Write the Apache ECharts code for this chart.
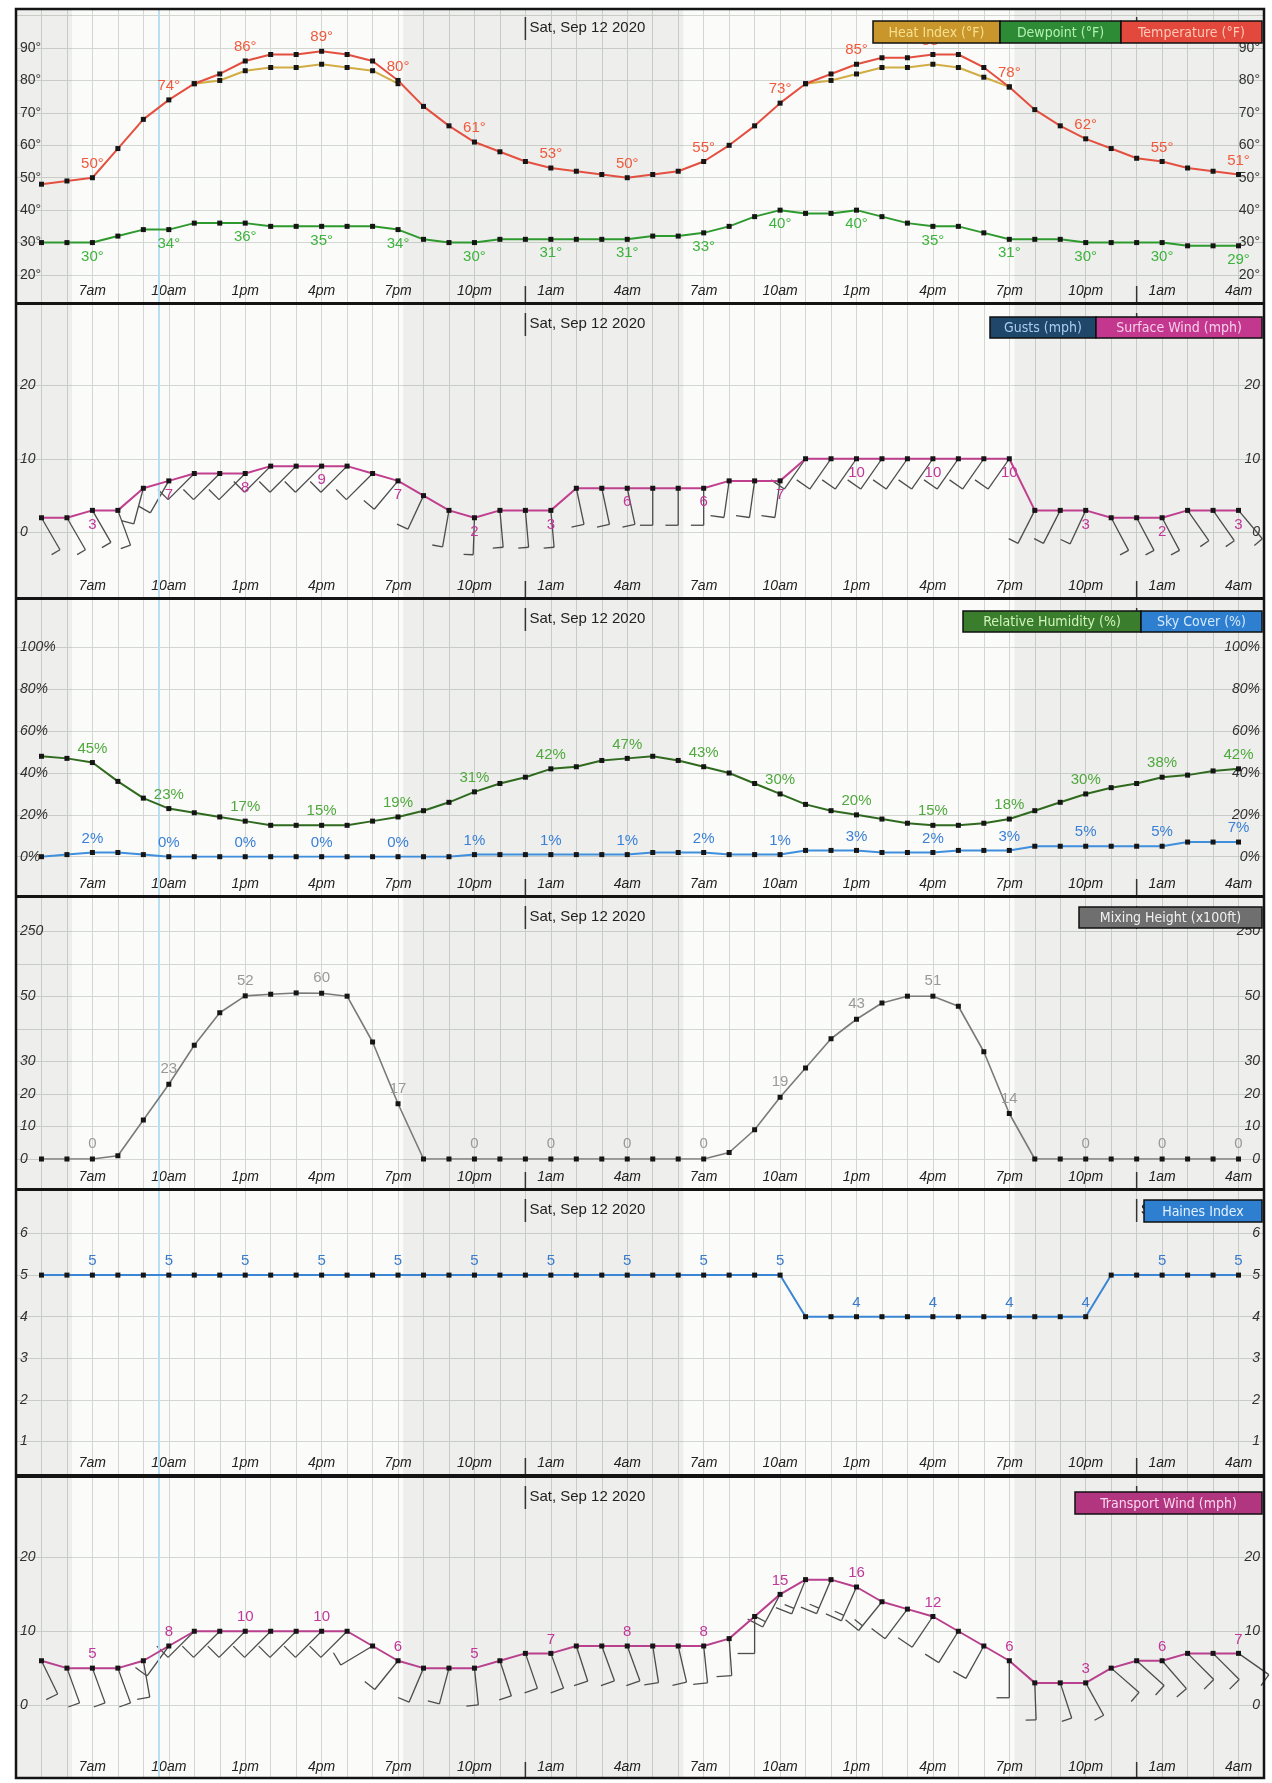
<!DOCTYPE html>
<html><head><meta charset="utf-8">
<script src="https://cdn.jsdelivr.net/npm/echarts@6/dist/echarts.min.js"></script>
<style>html,body{margin:0;padding:0;background:#fff}#c{width:1272px;height:1783px}</style>
</head><body><div id="c"></div><script>
// ---------------- DATA ----------------
const timeLabels = ['5am','6am','7am','8am','9am','10am','11am','12pm','1pm','2pm','3pm','4pm','5pm','6pm','7pm','8pm','9pm','10pm','11pm','12am','1am','2am','3am','4am',
                    '5am','6am','7am','8am','9am','10am','11am','12pm','1pm','2pm','3pm','4pm','5pm','6pm','7pm','8pm','9pm','10pm','11pm','12am','1am','2am','3am','4am'];
const temperature = [48,49,50,59,68,74,79,82,86,88,88,89,88,86,80,72,66,61,58,55,53,52,51,50,
                     51,52,55,60,66,73,79,82,85,87,87,88,88,84,78,71,66,62,59,56,55,53,52,51];
const heatIndex = [null,null,null,null,null,null,79,80,83,84,84,85,84,83,79,null,null,null,null,null,null,null,null,null,
                   null,null,null,null,null,null,79,80,82,84,84,85,84,81,78,null,null,null,null,null,null,null,null,null];
const dewpoint = [30,30,30,32,34,34,36,36,36,35,35,35,35,35,34,31,30,30,31,31,31,31,31,31,
                  32,32,33,35,38,40,39,39,40,38,36,35,35,33,31,31,31,30,30,30,30,29,29,29];
const surfaceWind = [2,2,3,3,6,7,8,8,8,9,9,9,9,8,7,5,3,2,3,3,3,6,6,6,
                     6,6,6,7,7,7,10,10,10,10,10,10,10,10,10,3,3,3,2,2,2,3,3,3];
const surfaceDir = [150,150,150,160,195,210,225,225,225,225,225,225,225,225,220,205,190,182,175,175,175,168,168,168,
                    180,180,180,188,188,188,215,215,215,215,215,215,215,215,215,207,207,205,152,152,152,145,145,140];
const humidity = [48,47,45,36,28,23,21,19,17,15,15,15,15,17,19,22,26,31,35,38,42,43,46,47,
                  48,46,43,40,35,30,25,22,20,18,16,15,15,16,18,22,26,30,33,35,38,39,41,42];
const skyCover = [0,1,2,2,1,0,0,0,0,0,0,0,0,0,0,0,0,1,1,1,1,1,1,1,
                  2,2,2,1,1,1,3,3,3,2,2,2,3,3,3,5,5,5,5,5,5,7,7,7];
const mixingHeight = [0,0,0,1,12,23,35,45,52,57,61,60,51,36,17,0,0,0,0,0,0,0,0,0,
                      0,0,0,2,9,19,28,37,43,48,51,51,47,33,14,0,0,0,0,0,0,0,0,0];
const mixTicks = [0,10,20,30,50,250];
const haines = [5,5,5,5,5,5,5,5,5,5,5,5,5,5,5,5,5,5,5,5,5,5,5,5,
                5,5,5,5,5,5,4,4,4,4,4,4,4,4,4,4,4,4,5,5,5,5,5,5];
const transportWind = [6,5,5,5,6,8,10,10,10,10,10,10,10,8,6,5,5,5,6,7,7,8,8,8,
                       8,8,8,9,12,15,17,17,16,14,13,12,10,8,6,3,3,3,5,6,6,7,7,7];
const transportDir = [154,160,160,160,170,216,225,225,225,225,225,225,225,239,219,203,195,174,162,161,160,162,160,160,
                      171,167,174,176,180,208,202,203,204,219,217,214,212,209,180,178,162,151,131,132,139,135,135,125];
const dateMarks = [{idx:19, text:'Sat, Sep 12 2020', panels:[0,1,2,3,4,5]}, {idx:43, text:'Sun, Sep 13 2020', panels:[4]}];
const nights = [[-1,1.2],[14.2,25.2],[38.2,48]];
const nowMark = 4.6;

// ---------------- LAYOUT ----------------
const FONT = '"Liberation Sans",Arial,"DejaVu Sans Condensed",sans-serif';
const mixScale = v => v <= 50 ? v/10 : 5 + (v-50)/100;
const PANELS = [
 {top:9,   bottom:302,  yMin:20, yMax:100, yInt:10, dTop:15.6,   dBot:275,    italic:false, fmt:v=>(v>=20&&v<=90)?v+'°':''},
 {top:305, bottom:597,  yMin:0,  yMax:20,  yInt:10, dTop:385,    dBot:532.5,  italic:true,  fmt:v=>String(v)},
 {top:600, bottom:895,  yMin:0,  yMax:100, yInt:20, dTop:647.5,  dBot:856.7,  italic:true,  fmt:v=>v+'%'},
 {top:898, bottom:1188, yMin:0,  yMax:7,   yInt:1,  dTop:931.5,  dBot:1159,   italic:true,  fmt:v=>{const i=mixTicks.findIndex(t=>Math.abs(mixScale(t)-v)<1e-6);return i>=0?String(mixTicks[i]):'';}},
 {top:1191,bottom:1474, yMin:1,  yMax:6,   yInt:1,  dTop:1233.5, dBot:1441.5, italic:true,  fmt:v=>String(v)},
 {top:1478,bottom:1778, yMin:0,  yMax:20,  yInt:10, dTop:1557.5, dBot:1705,   italic:true,  fmt:v=>String(v)}
];
const LEFT=16, RIGHT=8;
const GRIDC = '#d2d7d2';

const grids=[], xAxes=[], yAxes=[], series=[];
PANELS.forEach((P,p)=>{
  const gBg=grids.length;
  grids.push({left:LEFT,right:RIGHT,top:P.top,height:P.bottom-P.top,show:true,backgroundColor:'#fbfbfa',borderWidth:0,outerBoundsMode:'none'});
  const gD=grids.length;
  grids.push({left:LEFT,right:RIGHT,top:P.dTop,height:P.dBot-P.dTop,show:false,outerBoundsMode:'none'});
  const xBg=xAxes.length;
  xAxes.push({type:'value',gridIndex:gBg,min:-1,max:48,interval:1,
    axisLine:{show:false},axisTick:{show:false},
    splitLine:{show:true,lineStyle:{color:GRIDC,width:1}},
    axisLabel:{inside:true,margin:4,fontSize:14,fontStyle:'italic',color:'#222',fontFamily:FONT,
      formatter:v=>(v>=0&&v<48&&v%3===2)?timeLabels[v]:''}});
  const xD=xAxes.length;
  xAxes.push({type:'value',gridIndex:gD,min:-1,max:48,show:false});
  const yBg=yAxes.length;
  yAxes.push({type:'value',gridIndex:gBg,min:0,max:1,show:false});
  const lab={inside:true,margin:4,fontSize:14,fontStyle:P.italic?'italic':'normal',color:'#333',fontFamily:FONT,formatter:P.fmt};
  const yL=yAxes.length;
  yAxes.push({type:'value',gridIndex:gD,min:P.yMin,max:P.yMax,interval:P.yInt,position:'left',
    axisLine:{show:false},axisTick:{show:false},splitLine:{show:true,lineStyle:{color:GRIDC,width:1}},axisLabel:lab});
  yAxes.push({type:'value',gridIndex:gD,min:P.yMin,max:P.yMax,interval:P.yInt,position:'right',
    axisLine:{show:false},axisTick:{show:false},splitLine:{show:false},axisLabel:lab});
  P.ix={xBg,xD,yBg,yL};
  series.push({type:'line',xAxisIndex:xBg,yAxisIndex:yBg,data:[],silent:true,
    markArea:{silent:true,itemStyle:{color:'rgba(0,0,0,0.05)'},data:nights.map(n=>[{xAxis:n[0]},{xAxis:n[1]}])},
    markLine:{silent:true,symbol:['none','none'],label:{show:false},lineStyle:{color:'#b8def2',width:2,type:'solid'},data:[{xAxis:nowMark}]}});
});

function lineSeries(p,vals,color,labelColor,pos,fmt,extra){
  const P=PANELS[p];
  return Object.assign({type:'line',xAxisIndex:P.ix.xD,yAxisIndex:P.ix.yL,
    data:vals.map((v,i)=>[i,v==null?'-':v]),
    symbol:'rect',symbolSize:5,showAllSymbol:true,itemStyle:{color:'#151515'},
    lineStyle:{color:color,width:2},z:5,emphasis:{disabled:true},
    label:{show:!!fmt,position:pos,distance:4,color:labelColor,fontSize:15,fontFamily:FONT,
      formatter:q=>(fmt&&q.dataIndex%3===2&&vals[q.dataIndex]!=null)?fmt(vals[q.dataIndex]):''}},extra||{});
}
function barbSeries(p,speeds,dirs){
  const P=PANELS[p];
  return {type:'custom',xAxisIndex:P.ix.xD,yAxisIndex:P.ix.yL,z:4,silent:true,clip:false,
    encode:{x:0,y:1},
    data:speeds.map((s,i)=>[i,s,dirs[i]]),
    renderItem:(params,api)=>{
      const pt=api.coord([api.value(0),api.value(1)]);
      const sp=api.value(1), th=api.value(2)*Math.PI/180;
      const sx=Math.sin(th), sy=-Math.cos(th);
      const L=37;
      const ex=pt[0]+sx*L, ey=pt[1]+sy*L;
      const bx=-sy, by=sx;
      const bl=Math.min(17,8+sp*0.8);
      const st={stroke:'#4c4c4c',lineWidth:1.3};
      const ch=[{type:'line',shape:{x1:pt[0],y1:pt[1],x2:ex,y2:ey},style:st},
                {type:'line',shape:{x1:ex,y1:ey,x2:ex+bx*bl,y2:ey+by*bl},style:st}];
      if(sp>=14){const mx=ex-sx*6,my=ey-sy*6;ch.push({type:'line',shape:{x1:mx,y1:my,x2:mx+bx*10,y2:my+by*10},style:st});}
      return {type:'group',children:ch};
    }};
}

// Panel 1
series.push(lineSeries(0,heatIndex,'#d2ad45','#d6a93a','top',null,{z:4}));
series.push(lineSeries(0,temperature,'#e4503f','#ef5a3c','top',v=>v+'°'));
series.push(lineSeries(0,dewpoint,'#2e9a2e','#3db33d','bottom',v=>v+'°'));
// Panel 2
series.push(barbSeries(1,surfaceWind,surfaceDir));
series.push(lineSeries(1,surfaceWind,'#c0408f','#c1369a','bottom',v=>String(v)));
// Panel 3
series.push(lineSeries(2,humidity,'#2f6a1f','#4fa83c','top',v=>v+'%'));
series.push(lineSeries(2,skyCover,'#3f8fdc','#3a80d6','top',v=>v+'%'));
// Panel 4
(function(){const P=PANELS[3];
 series.push({type:'line',xAxisIndex:P.ix.xD,yAxisIndex:P.ix.yL,data:mixingHeight.map((v,i)=>[i,mixScale(v)]),
  symbol:'rect',symbolSize:5,showAllSymbol:true,itemStyle:{color:'#151515'},lineStyle:{color:'#7a7a7a',width:1.6},z:5,emphasis:{disabled:true},
  label:{show:true,position:'top',distance:5,color:'#999',fontSize:15,fontFamily:FONT,formatter:q=>q.dataIndex%3===2?String(mixingHeight[q.dataIndex]):''}});})();
// Panel 5
series.push(lineSeries(4,haines,'#3a86d4','#3a7ccc','top',v=>String(v)));
// Panel 6
series.push(barbSeries(5,transportWind,transportDir));
series.push(lineSeries(5,transportWind,'#b8408c','#c1369a','top',v=>String(v)));

const chart=echarts.init(document.getElementById('c'));
chart.setOption({animation:false,backgroundColor:'#ffffff',grid:grids,xAxis:xAxes,yAxis:yAxes,series:series});

// ---------------- DECORATION ----------------
const LEGENDS=[
 {y:21,h:22,items:[{x:873,w:127,t:'Heat Index (°F)',f:'#c9962b',c:'#f6e08e'},{x:1000,w:121,t:'Dewpoint (°F)',f:'#2e8b35',c:'#b2f0b2'},{x:1121,w:141,t:'Temperature (°F)',f:'#e2483b',c:'#ffc8b8'}]},
 {y:317,h:21,items:[{x:990,w:106,t:'Gusts (mph)',f:'#1f476a',c:'#aacdf0'},{x:1096,w:166,t:'Surface Wind (mph)',f:'#c3388e',c:'#f8d0ea'}]},
 {y:611,h:21,items:[{x:963,w:178,t:'Relative Humidity (%)',f:'#3a7d2d',c:'#d0f3bc'},{x:1141,w:121,t:'Sky Cover (%)',f:'#2f7fd0',c:'#d6eaff'}]},
 {y:907,h:21,items:[{x:1079,w:183,t:'Mixing Height (x100ft)',f:'#6f6f6f',c:'#f0f0f0'}]},
 {y:1200,h:22,items:[{x:1144,w:118,t:'Haines Index',f:'#2f7fd0',c:'#e4f2ff'}]},
 {y:1492,h:22,items:[{x:1075,w:187,t:'Transport Wind (mph)',f:'#b2357f',c:'#fad6ee'}]}
];
const g=[];
PANELS.forEach((P,p)=>{
  dateMarks.forEach(d=>{
    const x=chart.convertToPixel({xAxisIndex:P.ix.xBg},d.idx);
    g.push({type:'line',z:50,shape:{x1:x,y1:P.top+8,x2:x,y2:P.top+31},style:{stroke:'#333',lineWidth:1.5}});
    g.push({type:'line',z:50,shape:{x1:x,y1:P.bottom-16,x2:x,y2:P.bottom},style:{stroke:'#333',lineWidth:1.5}});
    if(d.panels.indexOf(p)>=0)
      g.push({type:'text',z:50,x:x+4,y:P.top+19,style:{text:d.text,font:'15px '+FONT,fill:'#222',verticalAlign:'middle',align:'left'}});
  });
});
for(let i=0;i<PANELS.length-1;i++){
  g.push({type:'rect',z:100,shape:{x:LEFT-1,y:PANELS[i].bottom,width:1272-LEFT-RIGHT+2,height:PANELS[i+1].top-PANELS[i].bottom},style:{fill:'#141414'}});
}
g.push({type:'rect',z:100,shape:{x:LEFT,y:PANELS[0].top,width:1272-LEFT-RIGHT,height:PANELS[5].bottom-PANELS[0].top},style:{fill:null,stroke:'#141414',lineWidth:2.5}});
LEGENDS.forEach(L=>L.items.forEach(it=>{
  g.push({type:'rect',z:101,shape:{x:it.x,y:L.y,width:it.w,height:L.h},style:{fill:it.f,stroke:'#111',lineWidth:1.5}});
  g.push({type:'text',z:102,x:it.x+it.w/2,y:L.y+L.h/2+1,style:{text:it.t,font:'14px "DejaVu Sans Condensed",'+FONT,fill:it.c,align:'center',verticalAlign:'middle'}});
}));
chart.setOption({graphic:{elements:g}});
</script></body></html>
